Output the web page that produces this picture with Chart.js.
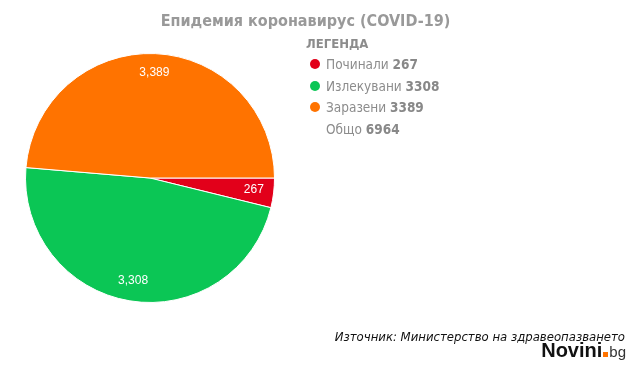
<!DOCTYPE html>
<html>
<head>
<meta charset="utf-8">
<script src="https://cdn.jsdelivr.net/npm/chart.js@4"></script>
<style>
    html, body { margin: 0; padding: 0; background: #fff; }
    #wrap { position: relative; width: 641px; height: 372px; overflow: hidden; font-family: "DejaVu Sans Condensed", "DejaVu Sans", Verdana, sans-serif; }
    #chart { position: absolute; left: 0; top: 0; }
    .title { position: absolute; left: 0; width: 611px; top: 11px; text-align: center; font-weight: bold; font-size: 16px; color: #999; }
    .legend { position: absolute; left: 306px; top: 36px; color: #8c8c8c; }
    .legend .head { font-weight: bold; font-size: 13px; margin-bottom: 5px; }
    .legend .row { position: relative; height: 21.7px; font-size: 13.5px; padding-left: 20px; line-height: 16px; }
    .legend .row b { color: #888; }
    .legend .dot { position: absolute; left: 4px; top: 3px; width: 10px; height: 10px; border-radius: 50%; }
    .source { position: absolute; right: 16px; top: 329px; font-style: italic; font-size: 13px; color: #111; }
    .logo { position: absolute; right: 15px; top: 339px; font-family: "Liberation Sans", Arial, sans-serif; color: #111; white-space: nowrap; }
    .logo .n { font-size: 20px; font-weight: bold; }
    .logo .d { display: inline-block; width: 5px; height: 5px; background: #ff7300; margin: 0 1px 0 1px; }
    .logo .bg { font-size: 15px; color: #333; }
</style>
</head>
<body>
<div id="wrap">
    <canvas id="chart" width="641" height="372"></canvas>
    <div class="title">Епидемия коронавирус (COVID-19)</div>
    <div class="legend" id="legend"></div>
    <div class="source">Източник: Министерство на здравеопазването</div>
    <div class="logo"><span class="n">Novini</span><span class="d"></span><span class="bg">bg</span></div>
</div>
<script>
const labels = ['Починали', 'Излекувани', 'Заразени'];
const values = [267, 3308, 3389];
const colors = ['#e2001a', '#0bc655', '#ff7300'];
const totalLabel = 'Общо';

// legend
const legend = document.getElementById('legend');
let html = '<div class="head">ЛЕГЕНДА</div>';
labels.forEach((l, i) => {
    html += '<div class="row"><span class="dot" style="background:' + colors[i] + '"></span>' + l + ' <b>' + values[i] + '</b></div>';
});
html += '<div class="row">' + totalLabel + ' <b>' + values.reduce((a, b) => a + b, 0) + '</b></div>';
legend.innerHTML = html;

// values inside slices
const sliceLabels = {
    id: 'sliceLabels',
    afterDatasetsDraw(chart) {
        const ctx = chart.ctx;
        const meta = chart.getDatasetMeta(0);
        ctx.save();
        ctx.fillStyle = '#fff';
        ctx.font = '12px "Liberation Sans", Arial, sans-serif';
        ctx.textAlign = 'center';
        ctx.textBaseline = 'middle';
        meta.data.forEach((arc, i) => {
            const p = arc.getProps(['x', 'y', 'startAngle', 'endAngle', 'outerRadius'], true);
            const a = (p.startAngle + p.endAngle) / 2;
            const r = p.outerRadius * 0.84;
            ctx.fillText(values[i].toLocaleString('en-US'), p.x + Math.cos(a) * r, p.y + Math.sin(a) * r - 1);
        });
        ctx.restore();
    }
};

new Chart(document.getElementById('chart'), {
    type: 'pie',
    data: {
        labels: labels,
        datasets: [{
            data: values,
            backgroundColor: colors,
            borderColor: '#fff',
            borderWidth: 1
        }]
    },
    options: {
        responsive: false,
        animation: false,
        rotation: 90,
        layout: { padding: { left: 25, right: 366, top: 53, bottom: 69 } },
        plugins: {
            legend: { display: false },
            tooltip: { enabled: false }
        }
    },
    plugins: [sliceLabels]
});
</script>
</body>
</html>
